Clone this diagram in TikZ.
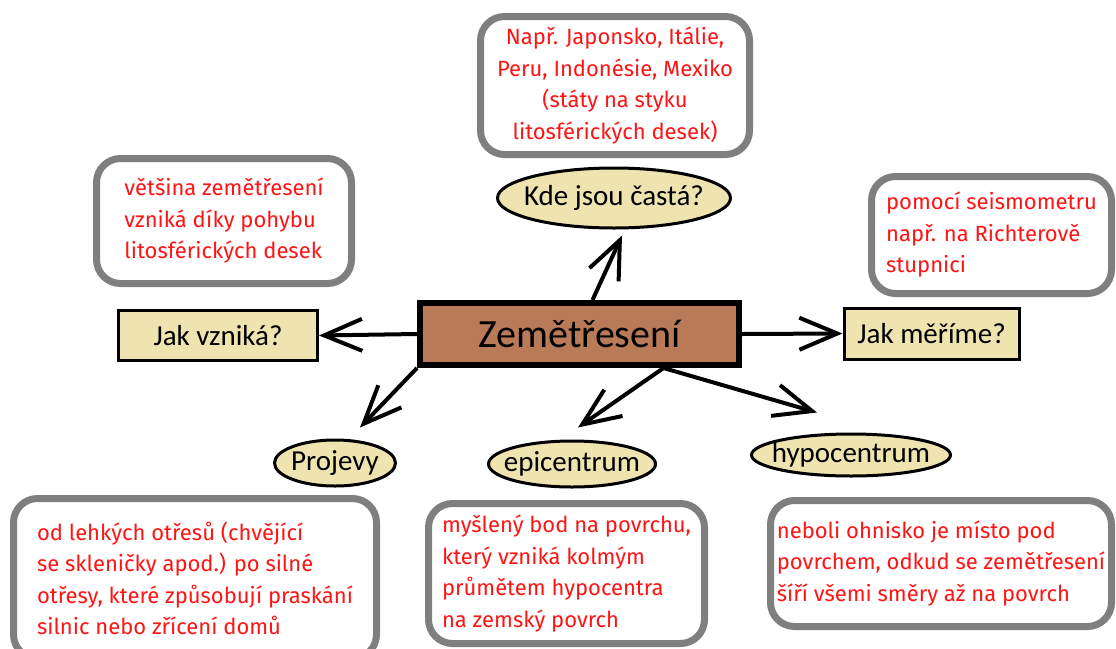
\documentclass[tikz,border=0pt]{standalone}
\usepackage{fontspec}
\setmainfont{Carlito}
\newfontfamily\notefont{Fira Sans}
\usetikzlibrary{arrows.meta,shapes.geometric}

\definecolor{quakebrown}{HTML}{B97A57}
\definecolor{lighttan}{HTML}{EFE4B0}
\definecolor{notered}{HTML}{FF1414}
\definecolor{notegray}{HTML}{7F7F7F}

\tikzset{
  topic/.style={draw, line width=6pt, fill=quakebrown, minimum width=319pt, minimum height=62pt, font=\fontsize{40}{48}\selectfont},
  question/.style={draw, line width=3pt, fill=lighttan, inner sep=0pt, font=\fontsize{29}{35}\selectfont},
  oval/.style={question, ellipse, inner xsep=-12pt},
  note/.style={draw=notegray, line width=7pt, rounded corners=24pt, fill=white, text=notered, inner sep=0pt, align=left, font=\notefont\fontsize{22}{31.5}\selectfont},
  link/.style={line width=4pt, -{Straight Barb[length=38pt,width=32pt]}}
}

\begin{document}
\begin{tikzpicture}[x=1pt,y=-1pt]
\useasboundingbox (0,0) rectangle (1116,648);

\node[topic] (quake) at (579.5,334) {Zemětřesení};

\node[question, minimum width=199pt, minimum height=50pt] (origin) at (218,335.5) {Jak vzniká?};
\node[question, minimum width=175pt, minimum height=51pt] (measure) at (931.5,333.5) {Jak měříme?};
\node[oval, minimum width=233pt, minimum height=60pt] (where) at (614,198) {Kde jsou častá?};
\node[oval, minimum width=121pt, minimum height=46pt] (signs) at (335,463) {Projevy};
\node[oval, minimum width=167pt, minimum height=46pt] (epi) at (572,464) {epicentrum};
\node[oval, minimum width=199pt, minimum height=42pt] (hypo) at (851,455) {hypocentrum};

\node[note, align=center, minimum width=269pt, minimum height=138pt] (wherenote) at (615,85.5)
  {Např. Japonsko, Itálie,\\Peru, Indonésie, Mexiko\\(státy na styku\\litosférických desek)};
\node[note, minimum width=255pt, minimum height=125pt] (originnote) at (224,221)
  {většina zemětřesení\\vzniká díky pohybu\\litosférických desek};
\node[note, minimum width=240pt, minimum height=117pt] (measurenote) at (991.5,235)
  {pomocí seismometru\\např. na Richterově\\stupnici};
\node[note, minimum width=363pt, minimum height=160pt] (signsnote) at (195,578.5)
  {od lehkých otřesů (chvějící\\se skleničky apod.) po silné\\otřesy, které způsobují praskání\\silnic nebo zřícení domů};
\node[note, minimum width=276pt, minimum height=140pt] (epinote) at (566.5,573.5)
  {myšlený bod na povrchu,\\který vzniká kolmým\\průmětem hypocentra\\na zemský povrch};
\node[note, minimum width=341pt, minimum height=126pt] (hyponote) at (941,563.5)
  {neboli ohnisko je místo pod\\povrchem, odkud se zemětřesení\\šíří všemi směry až na povrch};

\draw[link] (quake.west) -- (origin.east);
\draw[link] (quake.east) -- (measure.west);
\draw[link] ([xshift=13pt]quake.north) -- ([xshift=8pt,yshift=-6pt]where.south);
\draw[link] (quake.south west) -- ([xshift=25pt,yshift=11pt]signs.north);
\draw[link] ([xshift=84pt]quake.south) -- ([xshift=6pt,yshift=12pt]epi.north);
\draw[link] ([xshift=84pt]quake.south) -- ([xshift=-34pt,yshift=20pt]hypo.north);
\end{tikzpicture}
\end{document}
